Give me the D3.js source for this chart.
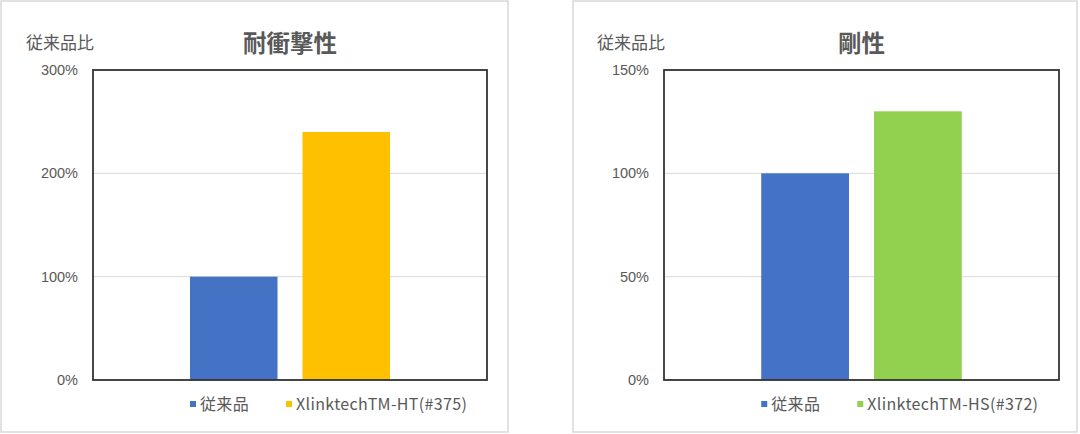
<!DOCTYPE html>
<html>
<head>
<meta charset="utf-8">
<script src="https://cdn.jsdelivr.net/npm/d3@7"></script>
<style>
  body { margin: 0; background: #fff; }
  svg { display: block; font-family: "Noto Sans CJK JP", "Noto Sans", sans-serif; }
</style>
</head>
<body>
<svg id="chart" width="1080" height="434"></svg>
<script>
// impact resistance chart
const impactTitle = "耐衝撃性";
const impactSeries = ["従来品", "XlinktechTM-HT(#375)"];
const impactValues = [100, 240];
const impactTicks = [0, 100, 200, 300];

// stiffness chart
const stiffTitle = "剛性";
const stiffSeries = ["従来品", "XlinktechTM-HS(#372)"];
const stiffValues = [100, 130];
const stiffTicks = [0, 50, 100, 150];

const yLabel = "従来品比";
const impactColors = ["#4472C4", "#FFC000"];
const stiffColors = ["#4472C4", "#92D050"];

const svg = d3.select("#chart");

function drawChart(box, plot, title, series, values, ticks, colors) {
    // outer frame
    svg.append("rect")
        .attr("x", box.x).attr("y", box.y)
        .attr("width", box.w).attr("height", box.h)
        .attr("fill", "#fff")
        .attr("stroke", "#d9d9d9")
        .attr("stroke-width", 1.5);

    const g = svg.append("g").attr("transform", `translate(${plot.x},${plot.y})`);

    const y = d3.scaleLinear()
        .domain([0, d3.max(ticks)])
        .range([plot.h, 0]);

    const x = d3.scaleBand()
        .domain(series)
        .range([0, plot.w])
        .paddingInner(0.222)
        .paddingOuter(0.862);

    // grid lines
    g.selectAll(".grid")
        .data(ticks)
        .enter()
        .append("line")
        .attr("x1", 0).attr("x2", plot.w)
        .attr("y1", d => y(d)).attr("y2", d => y(d))
        .attr("stroke", "#d9d9d9")
        .attr("stroke-width", 1);

    // bars
    g.selectAll(".bar")
        .data(series)
        .enter()
        .append("rect")
        .attr("x", d => x(d))
        .attr("y", (d, i) => y(values[i]))
        .attr("width", x.bandwidth())
        .attr("height", (d, i) => plot.h - y(values[i]))
        .attr("fill", (d, i) => colors[i]);

    // plot border
    g.append("rect")
        .attr("width", plot.w).attr("height", plot.h)
        .attr("fill", "none")
        .attr("stroke", "#333")
        .attr("stroke-width", 1.8);

    // y axis labels
    g.append("g")
        .call(d3.axisLeft(y).tickValues(ticks).tickSize(0).tickPadding(15).tickFormat(d => d + "%"))
        .call(a => a.select(".domain").remove())
        .selectAll("text")
        .style("font-family", "inherit")
        .style("font-size", "14.5px")
        .style("fill", "#595959");

    // y label and title
    svg.append("text")
        .attr("x", plot.x - 67)
        .attr("y", 49)
        .style("font-size", "17px")
        .style("fill", "#595959")
        .text(yLabel);

    svg.append("text")
        .attr("x", plot.x + plot.w / 2)
        .attr("y", 52)
        .attr("text-anchor", "middle")
        .style("font-size", "23.5px")
        .style("font-weight", "bold")
        .style("fill", "#595959")
        .text(title);

    // legend
    const legend = svg.append("g").attr("transform", `translate(${plot.x + x(series[0])},404)`);
    let cx = 0;
    series.forEach((s, i) => {
        legend.append("rect")
            .attr("x", cx).attr("y", -3)
            .attr("width", 6).attr("height", 6)
            .attr("fill", colors[i]);
        const t = legend.append("text")
            .attr("x", cx + 10)
            .attr("dy", "0.35em")
            .style("font-size", "16px")
            .style("letter-spacing", "0.35px")
            .style("fill", "#595959")
            .text(s);
        cx += 10 + t.node().getComputedTextLength() + 37;
    });
}

drawChart({ x: 1, y: 1, w: 507, h: 431 }, { x: 93, y: 70, w: 394, h: 310 },
    impactTitle, impactSeries, impactValues, impactTicks, impactColors);
drawChart({ x: 573, y: 1, w: 504, h: 431 }, { x: 664, y: 70, w: 395, h: 310 },
    stiffTitle, stiffSeries, stiffValues, stiffTicks, stiffColors);
</script>
</body>
</html>
